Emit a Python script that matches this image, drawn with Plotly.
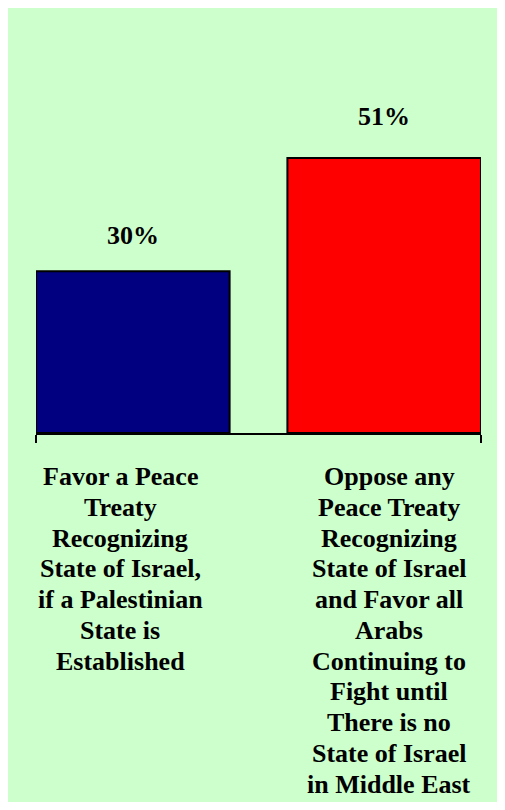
import plotly.graph_objects as go

# Data
categories = [
    "Favor a Peace<br>Treaty<br>Recognizing<br>State of Israel,<br>if a Palestinian<br>State is<br>Established",
    "Oppose any<br>Peace Treaty<br>Recognizing<br>State of Israel<br>and Favor all<br>Arabs<br>Continuing to<br>Fight until<br>There is no<br>State of Israel<br>in Middle East",
]
values = [30, 51]
value_labels = ["30%", "51%"]
bar_colors = ["#000080", "#FF0000"]

FONT = "Liberation Serif"
x_pos = list(range(len(values)))

fig = go.Figure()
fig.add_trace(go.Bar(
    x=x_pos,
    y=values,
    width=0.77,
    marker=dict(color=bar_colors, line=dict(color="black", width=2)),
    hoverinfo="skip",
))

# value labels above the bars
for i, (v, lab) in enumerate(zip(values, value_labels)):
    fig.add_annotation(
        x=x_pos[i], y=v, text="<b>" + lab + "</b>", showarrow=False,
        yanchor="middle", yshift=[35.5, 42][i],
        font=dict(family=FONT, size=26, color="black"),
    )

# category labels, one annotation per line to get the tight line spacing
for i, cat in enumerate(categories):
    for j, line in enumerate(cat.split("<br>")):
        fig.add_annotation(
            x=x_pos[i], y=0, xref="x", yref="paper", text="<b>" + line + "</b>",
            showarrow=False,
            yanchor="middle", yshift=-(43.5 + j * 30.75), xshift=[-12.5, 5][i],
            font=dict(family=FONT, size=26, color="black"),
        )

fig.update_layout(
    width=489, height=794,
    margin=dict(l=28, r=16, t=52, b=369),
    paper_bgcolor="#CCFFCC",
    plot_bgcolor="rgba(0,0,0,0)",
    showlegend=False,
    xaxis=dict(
        range=[-0.385, 1.385],
        showgrid=False, zeroline=False,
        showline=True, linecolor="black", linewidth=2,
        tickmode="array", tickvals=[-0.385, 1.385], ticktext=["", ""],
        ticks="outside", ticklen=8, tickwidth=2, tickcolor="black",
    ),
    yaxis=dict(range=[0, 69.2], visible=False),
)

fig.write_html("out.html")
